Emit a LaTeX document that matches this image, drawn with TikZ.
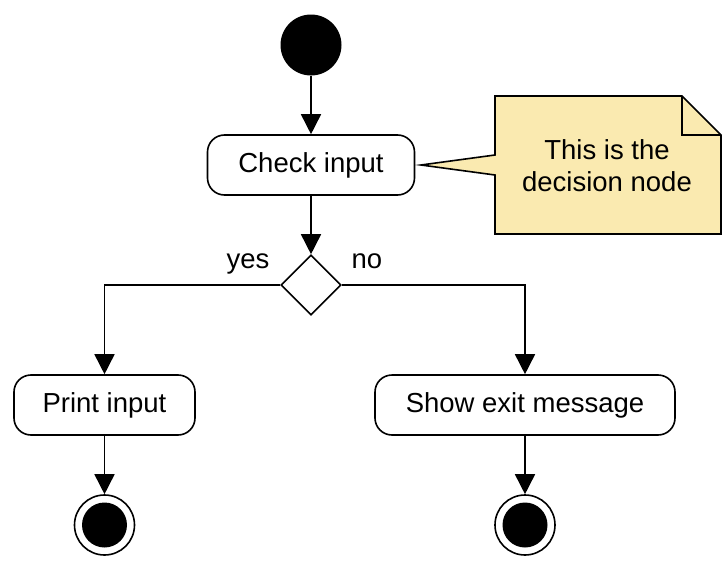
\documentclass[tikz,border=0pt]{standalone}
\usepackage{fontspec}
\setmainfont{Liberation Sans}
\usetikzlibrary{arrows.meta,shapes.geometric}
\definecolor{notefill}{RGB}{250,234,176}
\tikzset{
  every node/.style={font=\fontsize{27.5}{32}\selectfont},
  action/.style={draw, line width=1.6pt, rounded corners=17pt, fill=white, minimum height=60pt, inner sep=0pt},
  arr/.style={line width=1.6pt, -{Triangle[length=20pt,width=20pt]}},
  plain/.style={line width=1.6pt},
}
\begin{document}
\begin{tikzpicture}[x=1pt,y=-1pt]
\useasboundingbox (0,0) rectangle (726,562);
% start
\node[circle, fill=black, minimum size=61pt, inner sep=0pt] (start) at (311,45) {};
% actions
\node[action, minimum width=207pt] (check) at (311,165) {Check input};
\node[action, minimum width=181pt] (print) at (104.5,405) {Print input};
\node[action, minimum width=300pt] (show) at (525,405) {Show exit message};
% decision
\node[diamond, draw, line width=1.6pt, fill=white, minimum width=60pt, minimum height=60pt, inner sep=0pt] (dec) at (311,285) {};
\node[anchor=base] (yes) at (248,268) {yes};
\node[anchor=base] (no) at (367,268) {no};
% ends
\node[circle, draw, line width=1.6pt, fill=white, minimum size=60pt, inner sep=0pt] (end1) at (104.5,525) {};
\node[circle, fill=black, minimum size=45pt, inner sep=0pt] at (end1.center) {};
\node[circle, draw, line width=1.6pt, fill=white, minimum size=60pt, inner sep=0pt] (end2) at (525,525) {};
\node[circle, fill=black, minimum size=45pt, inner sep=0pt] at (end2.center) {};
% connectors
\draw[arr] (start) -- (check);
\draw[arr] (check) -- (dec);
\draw[arr] (dec.west) -| (print.north);
\draw[arr] (dec.east) -| (show.north);
\draw[arr] (print) -- (end1);
\draw[arr] (show) -- (end2);
% note callout
\coordinate (tip) at (421,165);
\draw[plain, fill=notefill, line join=miter] (tip) -- (495,155) -- (495,96) -- (682,96) -- (721,135) -- (721,234) -- (495,234) -- (495,175) -- cycle;
\draw[plain, line join=miter] (682,96) -- (682,135) -- (721,135);
\node[align=center] (note) at (607,166) {This is the\\decision node};
\end{tikzpicture}
\end{document}
